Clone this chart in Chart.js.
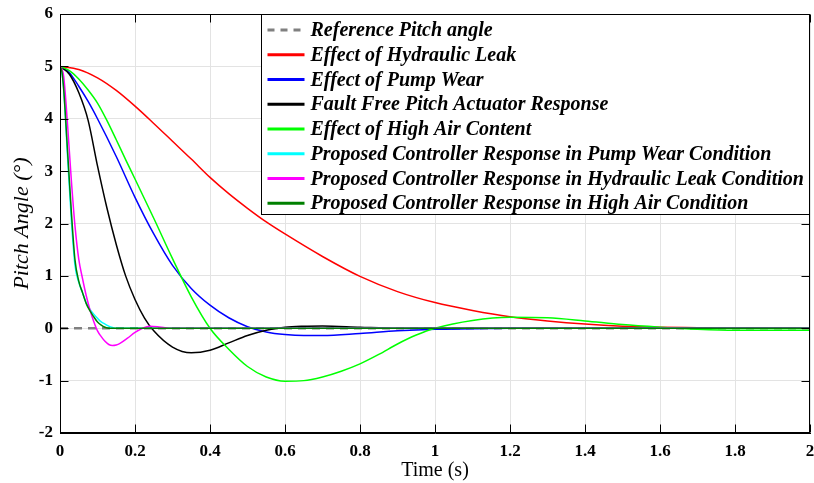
<!DOCTYPE html>
<html>
<head>
<meta charset="utf-8">
<script src="https://cdn.jsdelivr.net/npm/chart.js@4.4.0/dist/chart.umd.min.js"></script>
<style>
  html, body { margin: 0; padding: 0; background: #fff; }
  #wrap { width: 814px; height: 483px; }
</style>
</head>
<body>
<div id="wrap"><canvas id="chart"></canvas></div>
<script>
// values (time in s, pitch angle in deg)
const refT = [0, 2];
const refY = [0, 0];

const leakT = [0, 0.05, 0.1, 0.15, 0.2, 0.25, 0.3, 0.35, 0.4, 0.45, 0.5, 0.55, 0.6, 0.7, 0.8, 0.9, 1.0, 1.1, 1.2, 1.3, 1.4, 1.5, 1.6, 1.7, 1.8, 2.0];
const leakY = [5, 4.94, 4.78, 4.54, 4.24, 3.91, 3.57, 3.23, 2.88, 2.57, 2.29, 2.03, 1.80, 1.37, 0.99, 0.70, 0.49, 0.34, 0.22, 0.14, 0.08, 0.04, 0.02, 0.01, 0, 0];

const pumpT = [0, 0.025, 0.05, 0.075, 0.1, 0.15, 0.2, 0.25, 0.3, 0.35, 0.4, 0.45, 0.5, 0.55, 0.6, 0.65, 0.7, 0.8, 0.9, 1.0, 1.1, 1.2, 2.0];
const pumpY = [5, 4.88, 4.62, 4.33, 4.0, 3.28, 2.5, 1.8, 1.2, 0.76, 0.44, 0.2, 0.03, -0.07, -0.12, -0.14, -0.14, -0.1, -0.05, -0.02, -0.01, 0, 0];

const freeT = [0, 0.025, 0.05, 0.075, 0.1, 0.125, 0.15, 0.175, 0.2, 0.225, 0.25, 0.3, 0.35, 0.4, 0.45, 0.5, 0.55, 0.6, 0.65, 0.7, 0.8, 0.9, 2.0];
const freeY = [5, 4.85, 4.5, 3.97, 3.1, 2.3, 1.6, 1.0, 0.55, 0.2, -0.05, -0.36, -0.47, -0.42, -0.28, -0.14, -0.04, 0.02, 0.04, 0.045, 0.02, 0, 0];

const airT = [0, 0.025, 0.05, 0.075, 0.1, 0.125, 0.15, 0.175, 0.2, 0.25, 0.3, 0.35, 0.4, 0.45, 0.5, 0.55, 0.6, 0.65, 0.7, 0.75, 0.8, 0.85, 0.9, 0.95, 1.0, 1.1, 1.2, 1.3, 1.4, 1.5, 1.6, 1.7, 1.8, 1.9, 2.0];
const airY = [5, 4.92, 4.76, 4.55, 4.3, 3.97, 3.6, 3.22, 2.85, 2.1, 1.33, 0.6, 0, -0.4, -0.73, -0.93, -1.01, -1.0, -0.93, -0.82, -0.68, -0.5, -0.3, -0.13, 0, 0.15, 0.21, 0.2, 0.14, 0.07, 0.02, -0.02, -0.04, -0.04, -0.04];

const pcPumpT = [0, 0.005, 0.01, 0.02, 0.03, 0.04, 0.05, 0.06, 0.07, 0.08, 0.09, 0.1, 0.11, 0.12, 0.13, 0.14, 0.15, 2.0];
const pcPumpY = [5, 4.9, 4.55, 3.3, 2.1, 1.2, 0.88, 0.68, 0.48, 0.36, 0.27, 0.19, 0.12, 0.08, 0.04, 0.015, 0, 0];

const pcLeakT = [0, 0.005, 0.01, 0.02, 0.03, 0.04, 0.05, 0.06, 0.07, 0.08, 0.09, 0.1, 0.11, 0.12, 0.13, 0.14, 0.15, 0.16, 0.18, 0.2, 0.22, 0.24, 0.26, 0.28, 0.3, 2.0];
const pcLeakY = [5, 4.95, 4.8, 3.9, 2.85, 1.95, 1.32, 0.95, 0.62, 0.35, 0.13, -0.05, -0.16, -0.25, -0.31, -0.33, -0.32, -0.29, -0.19, -0.08, 0, 0.04, 0.03, 0.01, 0, 0];

const pcAirT = [0, 0.005, 0.01, 0.02, 0.03, 0.04, 0.05, 0.06, 0.07, 0.08, 0.09, 0.1, 0.11, 0.12, 0.13, 2.0];
const pcAirY = [5, 4.9, 4.55, 3.4, 2.25, 1.3, 0.9, 0.68, 0.47, 0.33, 0.22, 0.12, 0.06, 0.02, 0, 0];

const seriesNames = [
  "Reference Pitch angle",
  "Effect of Hydraulic Leak",
  "Effect of Pump Wear",
  "Fault Free Pitch Actuator Response",
  "Effect of High Air Content",
  "Proposed Controller Response in Pump Wear Condition",
  "Proposed Controller Response in Hydraulic Leak Condition",
  "Proposed Controller Response in High Air Condition"
];
const seriesColors = ["#808080", "#ff0000", "#0000ff", "#000000", "#00ff00", "#00ffff", "#ff00ff", "#008000"];

const xTicks = { min: 0, max: 2, step: 0.2 };
const yTicks = { min: -2, max: 6, step: 1 };

const toPoints = (t, y) => t.map((x, i) => ({ x: x, y: y[i] }));
const allSeries = [
  toPoints(refT, refY),
  toPoints(leakT, leakY),
  toPoints(pumpT, pumpY),
  toPoints(freeT, freeY),
  toPoints(airT, airY),
  toPoints(pcPumpT, pcPumpY),
  toPoints(pcLeakT, pcLeakY),
  toPoints(pcAirT, pcAirY)
];

const serif = "'Liberation Serif', 'Times New Roman', serif";

const datasets = allSeries.map((pts, i) => ({
  label: seriesNames[i],
  data: pts,
  borderColor: seriesColors[i],
  backgroundColor: seriesColors[i],
  borderWidth: i === 0 ? 2.5 : 1.5,
  borderDash: i === 0 ? [8, 6] : [],
  pointRadius: 0,
  fill: false,
  cubicInterpolationMode: "monotone",
  order: allSeries.length - i // later series on top, like the original
}));

// box, inside ticks and the boxed legend
const boxPlugin = {
  id: "box",
  afterDraw(chart) {
    const { ctx, chartArea: a, scales } = chart;
    const L = Math.round(a.left) + 0.5, R = Math.round(a.right) - 0.5;
    const T = Math.round(a.top) + 0.5, B = Math.round(a.bottom) - 0.5;
    ctx.save();
    ctx.strokeStyle = "#000";
    ctx.lineWidth = 1;
    ctx.beginPath();
    scales.x.ticks.forEach((tk) => {
      const px = Math.round(scales.x.getPixelForValue(tk.value)) + 0.5;
      ctx.moveTo(px, B); ctx.lineTo(px, B - 8);
      ctx.moveTo(px, T); ctx.lineTo(px, T + 8);
    });
    scales.y.ticks.forEach((tk) => {
      const py = Math.round(scales.y.getPixelForValue(tk.value)) + 0.5;
      ctx.moveTo(L, py); ctx.lineTo(L + 8, py);
      ctx.moveTo(R, py); ctx.lineTo(R - 8, py);
    });
    ctx.stroke();
    ctx.strokeRect(L, T, R - L, B - T);

    // legend
    const lx = 261.5, rowH = 24.76;
    const ly = T, lh = 200;
    ctx.fillStyle = "#fff";
    ctx.fillRect(lx, ly, R - lx, lh);
    ctx.strokeRect(lx, ly, R - lx, lh);
    ctx.font = "italic bold 20px " + serif;
    ctx.textBaseline = "middle";
    ctx.textAlign = "left";
    seriesNames.forEach((name, i) => {
      const cy = ly + 15.5 + i * rowH;
      ctx.beginPath();
      ctx.strokeStyle = seriesColors[i];
      ctx.lineWidth = 3;
      ctx.setLineDash(i === 0 ? [7, 6] : []);
      ctx.moveTo(lx + 6, cy);
      ctx.lineTo(lx + 43, cy);
      ctx.stroke();
      ctx.setLineDash([]);
      ctx.fillStyle = "#000";
      ctx.fillText(name, lx + 49, cy + 1);
    });
    ctx.restore();
  }
};

const noPad = (s) => { s.paddingTop = 0; s.paddingBottom = 0; s.paddingLeft = 0; s.paddingRight = 0; };
const fmt = (v) => String(Math.round(v * 10) / 10);

new Chart(document.getElementById("chart"), {
  type: "line",
  data: { datasets: datasets },
  options: {
    responsive: true,
    maintainAspectRatio: false,
    animation: false,
    layout: { padding: { left: 0, top: 14, right: 4, bottom: 0 } },
    plugins: { legend: { display: false }, tooltip: { enabled: false } },
    scales: {
      x: {
        type: "linear",
        min: xTicks.min,
        max: xTicks.max,
        afterFit: (s) => { s.height = 50; noPad(s); },
        ticks: { stepSize: xTicks.step, callback: fmt, color: "#000", padding: 8, maxRotation: 0, font: { family: serif, size: 17, weight: "bold" } },
        grid: { color: "#e3e3e3", drawTicks: false },
        border: { display: true, color: "#000" },
        title: { display: true, text: "Time (s)", color: "#000", padding: { top: 0, bottom: 0 }, font: { family: serif, size: 20 } }
      },
      y: {
        type: "linear",
        min: yTicks.min,
        max: yTicks.max,
        afterFit: (s) => { s.width = 60; noPad(s); },
        ticks: { stepSize: yTicks.step, callback: fmt, color: "#000", padding: 7, font: { family: serif, size: 17, weight: "bold" } },
        grid: { color: "#e3e3e3", drawTicks: false },
        border: { display: true, color: "#000" },
        title: { display: true, text: "Pitch Angle (°)", color: "#000", padding: { top: 9, bottom: 0 }, font: { family: serif, size: 22, style: "italic" } }
      }
    }
  },
  plugins: [boxPlugin]
});
</script>
</body>
</html>
